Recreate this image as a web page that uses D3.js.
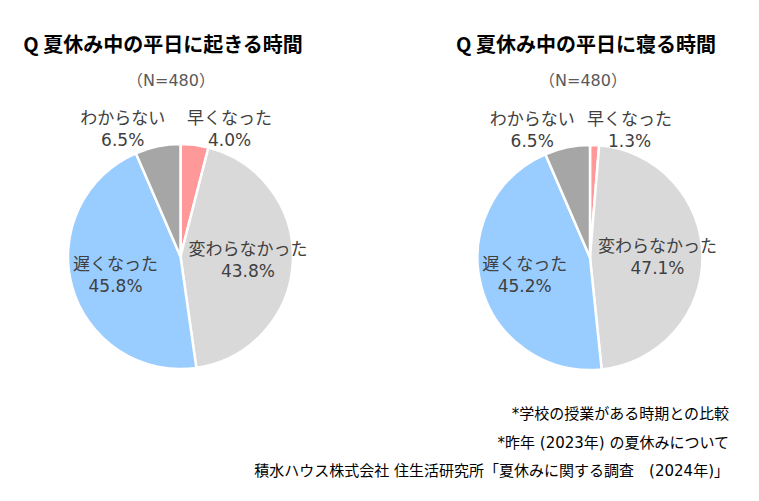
<!DOCTYPE html>
<html>
<head>
<meta charset="utf-8">
<script src="https://cdn.jsdelivr.net/npm/d3@7"></script>
<style>
  body { margin: 0; background: #fff; }
  text { font-family: "DejaVu Sans", "Noto Sans CJK JP", sans-serif; }
</style>
</head>
<body>
<svg id="chart"></svg>
<script>
// Data
const categories = ["早くなった", "変わらなかった", "遅くなった", "わからない"];
const wakeValues = [4.0, 43.8, 45.8, 6.5];
const sleepValues = [1.3, 47.1, 45.2, 6.5];
const titles = ["Q 夏休み中の平日に起きる時間", "Q 夏休み中の平日に寝る時間"];
const sampleLabel = "（N=480）";
const notes = [
  "*学校の授業がある時期との比較",
  "*昨年 (2023年) の夏休みについて",
  "積水ハウス株式会社 住生活研究所「夏休みに関する調査　(2024年)」"
];
// labels of these slices sit outside, above the pie
const outsideLabels = ["早くなった", "わからない"];

const width = 759, height = 501;
const radius = 112.5;

const svg = d3.select("#chart")
  .attr("width", width)
  .attr("height", height);

const color = d3.scaleOrdinal()
  .domain(categories)
  .range(["#ff9999", "#d9d9d9", "#99ccff", "#a6a6a6"]);

const pie = d3.pie().sort(null).value(d => d.value);
const arc = d3.arc().innerRadius(0).outerRadius(radius);
const labelArc = d3.arc().innerRadius(radius * 0.6).outerRadius(radius * 0.6);

const charts = [
  {values: wakeValues, cx: 180.5, cy: 256.5, titleX: 163, nX: 171},
  {values: sleepValues, cx: 590, cy: 257.5, titleX: 586, nX: 583}
];

charts.forEach((c, i) => {
  const data = categories.map((k, j) => ({key: k, value: c.values[j]}));

  // Title
  svg.append("text")
    .attr("x", c.titleX)
    .attr("y", 52)
    .attr("text-anchor", "middle")
    .style("font-family", "'Noto Sans CJK JP', sans-serif")
    .style("font-size", "20px")
    .style("font-weight", "bold")
    .style("fill", "#000")
    .text(titles[i]);

  // N label
  svg.append("text")
    .attr("x", c.nX)
    .attr("y", 86)
    .attr("text-anchor", "middle")
    .style("font-size", "16px")
    .style("fill", "#595959")
    .text(sampleLabel);

  const g = svg.append("g")
    .attr("transform", `translate(${c.cx},${c.cy})`);

  const arcs = pie(data);

  // Slices
  g.selectAll("path")
    .data(arcs)
    .join("path")
    .attr("d", arc)
    .attr("fill", d => color(d.data.key))
    .attr("stroke", "#fff")
    .attr("stroke-width", 2.5);

  // Labels
  const labels = g.selectAll("text.lbl")
    .data(arcs)
    .join("text")
    .attr("class", "lbl")
    .attr("text-anchor", "middle")
    .style("font-size", "17px")
    .style("fill", "#404040")
    .attr("transform", d => {
      const mid = (d.startAngle + d.endAngle) / 2;
      if (outsideLabels.includes(d.data.key)) {
        const px = radius * Math.sin(mid);
        const side = px >= 0 ? 1 : -1;
        return `translate(${px + side * 35},${-radius - 20})`;
      }
      const [x, y] = labelArc.centroid(d);
      return `translate(${x},${y - 5})`;
    });

  labels.append("tspan")
    .attr("x", 0)
    .attr("dy", 0)
    .text(d => d.data.key);
  labels.append("tspan")
    .attr("x", 0)
    .attr("dy", 22)
    .text(d => d.data.value.toFixed(1) + "%");
});

// Footnotes
svg.selectAll("text.note")
  .data(notes)
  .join("text")
  .attr("class", "note")
  .attr("x", 729)
  .attr("y", (d, i) => 419 + i * 28.5)
  .attr("text-anchor", "end")
  .style("font-size", "15px")
  .style("fill", "#000")
  .text(d => d);
</script>
</body>
</html>
